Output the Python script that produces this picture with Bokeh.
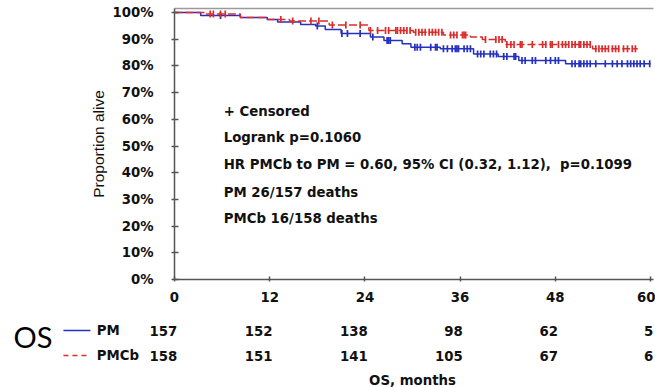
import numpy as np
from bokeh.plotting import figure
from bokeh.layouts import column
from bokeh.models import Range1d, LinearAxis, FixedTicker
from bokeh.core.properties import value
from bokeh.embed import file_html
from bokeh.resources import INLINE

# ---------------- data ----------------
month_ticks = [0, 12, 24, 36, 48, 60]
pct_ticks = [0, 10, 20, 30, 40, 50, 60, 70, 80, 90, 100]

# PM (blue) Kaplan-Meier steps
pm_t = [0, 3.3, 8.3, 11.7, 13.0, 15.9, 17.8, 19.0, 21.0, 24.7, 26.4, 28.7, 29.8, 33.5, 37.7, 40.8, 43.4, 49.3]
pm_s = [100, 98.9, 98.1, 97.4, 96.4, 95.5, 94.9, 93.6, 92.1, 90.8, 89.5, 88.3, 87.0, 86.4, 84.5, 83.5, 82.0, 80.8]
pm_end = 60.0
pm_cens = [5.8, 18.0, 21.1, 21.8, 23.4, 25.0, 26.8, 27.0, 27.2, 30.3, 30.6, 31.0, 32.3, 32.9, 33.1,
           33.9, 34.4, 35.0, 35.4, 35.6, 35.8, 36.5, 36.9, 37.3, 38.2, 38.6, 39.0, 39.8, 40.2, 40.6,
           41.5, 41.9, 42.8, 43.0, 43.8, 44.2, 45.1, 45.5, 46.8, 47.4, 48.0, 48.4, 50.1, 50.5, 51.0,
           51.2, 51.6, 52.0, 52.4, 53.1, 54.3, 55.2, 55.8, 56.4, 57.1, 57.5, 57.9, 58.3, 58.7, 59.2, 59.9]

# PMCb (red) Kaplan-Meier steps
pmcb_t = [0, 3.8, 8.3, 11.7, 14.5, 19.5, 24.5, 30.1, 33.9, 37.3, 38.8, 41.7, 52.7]
pmcb_s = [100, 99.4, 98.1, 97.4, 96.8, 95.3, 93.3, 92.6, 91.6, 90.8, 89.9, 88.0, 86.4]
pmcb_end = 58.4
pmcb_cens = [4.5, 4.9, 5.8, 6.4, 13.4, 14.9, 17.2, 18.2, 19.9, 21.6, 23.4, 24.7, 25.6, 26.6, 27.0,
             27.9, 28.1, 28.5, 28.9, 29.3, 29.7, 30.4, 30.8, 31.2, 31.6, 32.1, 32.5, 32.9, 33.3, 33.7,
             34.8, 35.2, 35.6, 36.3, 36.5, 36.7, 39.2, 40.5, 40.9, 41.3, 41.9, 42.4, 42.8, 43.6, 43.8,
             45.1, 46.4, 46.8, 47.4, 47.6, 48.4, 48.9, 49.3, 49.7, 50.1, 50.5, 51.0, 51.2, 51.6, 52.0,
             52.4, 53.1, 53.5, 53.9, 54.3, 54.7, 55.2, 55.6, 56.0, 56.6, 57.1, 57.7, 58.1]

# numbers at risk
risk_groups = ["PM", "PMCb"]
pm_risk = [157, 152, 138, 98, 62, 5]
pmcb_risk = [158, 151, 141, 105, 67, 6]

notes = ["+ Censored",
         "Logrank p=0.1060",
         "HR PMCb to PM = 0.60, 95% CI (0.32, 1.12),\u00a0 p=0.1099",
         "PM 26/157 deaths",
         "PMCb 16/158 deaths"]
note_y = [62.8, 53.0, 43.1, 32.5, 22.7]

BLUE = "#2430c0"
RED = "#dc2b2b"
BOLD = "DejaVu Sans"
TXT = "#111111"
FS = "13.3px"


def surv_at(times, steps, levels):
    idx = np.searchsorted(np.array(steps), np.array(times), side="right") - 1
    return list(np.array(levels)[idx])


# ---------------- main KM plot ----------------
PXM = 476 / 60.0
p = figure(width=655, height=309, x_range=Range1d(0, 479 / PXM), y_range=Range1d(0, 101.5),
           output_backend="svg", toolbar_location=None,
           min_border_left=174, min_border_right=2, min_border_top=8, min_border_bottom=30)
p.frame_align = False
p.grid.visible = False
p.outline_line_color = None
p.background_fill_color = "white"
p.border_fill_color = "white"

for ax in (p.xaxis[0], p.yaxis[0]):
    ax.axis_line_color = "#555555"
    ax.axis_line_width = 1.5
    ax.major_tick_line_color = "#555555"
    ax.major_tick_line_width = 1.5
    ax.minor_tick_line_color = None
    ax.major_label_text_font = BOLD
    ax.major_label_text_font_style = "bold"
    ax.major_label_text_font_size = FS
    ax.major_label_text_color = TXT

p.xaxis.ticker = FixedTicker(ticks=month_ticks)
p.xaxis.major_tick_in = 3
p.xaxis.major_tick_out = 2
p.xaxis.major_label_standoff = 10

p.yaxis.ticker = FixedTicker(ticks=pct_ticks)
p.yaxis.major_label_overrides = {v: f"{v}%" for v in pct_ticks}
p.yaxis.major_tick_in = 4
p.yaxis.major_tick_out = 3
p.yaxis.major_label_standoff = 18
p.yaxis.axis_label = "Proportion alive"
p.yaxis.axis_label_text_font = "Liberation Sans"
p.yaxis.axis_label_text_font_style = "normal"
p.yaxis.axis_label_text_font_size = "15.5px"
p.yaxis.axis_label_text_color = TXT
p.yaxis.axis_label_standoff = 2

top = LinearAxis(ticker=FixedTicker(ticks=[]), axis_line_color="#9a9a9a", axis_line_width=1.5,
                 major_tick_in=0, major_tick_out=0, minor_tick_in=0, minor_tick_out=0,
                 major_label_standoff=0, major_label_text_font_size="0px")
p.add_layout(top, "above")

# curves
p.step(pm_t + [pm_end], pm_s + [pm_s[-1]], mode="after", line_color=BLUE, line_width=1.5)
p.step(pmcb_t + [pmcb_end], pmcb_s + [pmcb_s[-1]], mode="after", line_color=RED,
       line_width=1.5, line_dash="8 3")

p.scatter(pm_cens, surv_at(pm_cens, pm_t, pm_s), marker="dash", angle=np.pi / 2, size=7,
          line_color=BLUE, line_width=1.7)
p.scatter(pmcb_cens, surv_at(pmcb_cens, pmcb_t, pmcb_s), marker="dash", angle=np.pi / 2, size=7,
          line_color=RED, line_width=1.7)

p.text(x=[6.2] * len(notes), y=note_y, text=notes, text_font=value(BOLD), text_font_style="bold",
       text_font_size=FS, text_color=TXT, text_baseline="middle", text_align="left")

# ---------------- numbers at risk ----------------
# same month scale as the plot above, extended to the left edge of the page
x0 = -174 / PXM
t = figure(width=655, height=78, x_range=Range1d(x0, (655 - 174) / PXM),
           y_range=Range1d(2.28, -0.84),
           output_backend="svg", toolbar_location=None, min_border=0,
           x_axis_type=None, y_axis_type=None)
t.frame_align = False
t.outline_line_color = None
t.grid.visible = False

rows_x = month_ticks * 2
rows_y = [0] * len(pm_risk) + [1] * len(pmcb_risk)
rows_txt = [str(v) for v in pm_risk + pmcb_risk]
t.text(x=[m + 0.35 for m in rows_x], y=rows_y, text=rows_txt, text_font=value(BOLD),
       text_font_style="bold", text_font_size=FS, text_color=TXT,
       text_baseline="middle", text_align="right")

t.text(x=[-9.8, -9.8], y=[0, 1], text=risk_groups, text_font=value(BOLD), text_font_style="bold",
       text_font_size=FS, text_color=TXT, text_baseline="middle", text_align="left")
t.segment(x0=[-14.0], y0=[0], x1=[-10.6], y1=[0], line_color=BLUE, line_width=1.3)
t.segment(x0=[-14.0], y0=[1], x1=[-10.6], y1=[1], line_color=RED, line_width=1.3, line_dash="5 4")

t.text(x=[-20.3], y=[0.25], text=["OS"], text_font=value("Lato"), text_font_size="29px",
       text_color="black", text_baseline="middle", text_align="left")
t.text(x=[30.0], y=[1.98], text=["OS, months"], text_font=value(BOLD), text_font_style="bold",
       text_font_size=FS, text_color=TXT, text_baseline="middle", text_align="center")

layout = column(p, t, spacing=0)
open("out.html", "w").write(file_html(layout, INLINE))
